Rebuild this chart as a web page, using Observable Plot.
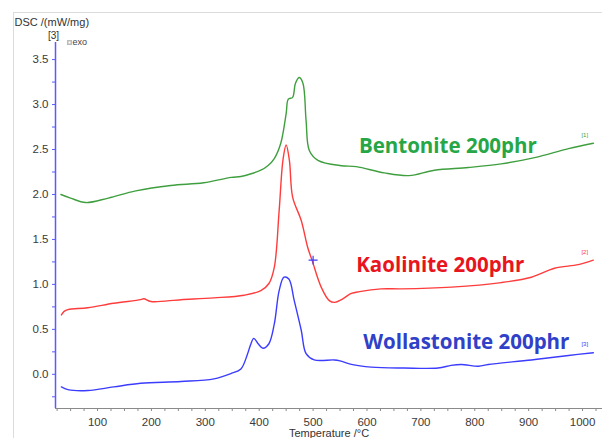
<!DOCTYPE html>
<html><head><meta charset="utf-8">
<script src="https://cdn.jsdelivr.net/npm/d3@7"></script>
<script src="https://cdn.jsdelivr.net/npm/@observablehq/plot@0.6"></script>
<style>
body{margin:0;background:#fff}
#wrap{position:relative;width:602px;height:438px}
#border{position:absolute;left:13px;top:12px;width:589px;height:426px;border-left:1px solid #dcdcdc;border-top:1px solid #dcdcdc;pointer-events:none}
</style>
</head><body><div id="wrap"><div id="chart"></div><div id="border"></div></div>
<script>
// ---- data ----
const bentoniteT = [32,50,78,120,171,236,297,348,366,385,403,416,428,440,450,454,462,467,474,481,487,493,509,552,580,632,678,725,788,849,911,974,1020];
const bentoniteV = [2.00,1.96,1.91,1.96,2.04,2.10,2.13,2.19,2.20,2.23,2.27,2.32,2.40,2.57,2.90,3.06,3.08,3.23,3.30,3.24,2.82,2.49,2.38,2.32,2.31,2.24,2.21,2.27,2.30,2.34,2.41,2.51,2.57];

const kaoliniteT = [33,38,45,82,130,180,186,199,255,316,372,403,418,428,437,444,450,456,462,478,490,498,515,530,540,555,571,586,626,664,757,849,905,948,992,1020];
const kaoliniteV = [0.66,0.70,0.72,0.74,0.79,0.83,0.84,0.81,0.83,0.85,0.88,0.93,1.01,1.19,1.82,2.38,2.55,2.38,1.97,1.71,1.41,1.27,0.97,0.82,0.80,0.84,0.90,0.92,0.95,0.95,0.97,1.02,1.08,1.18,1.22,1.27];

const wollastoniteT = [33,45,82,130,180,255,316,348,366,378,384,390,398,407,418,428,437,446,455,465,478,487,502,539,550,571,608,669,732,756,775,807,825,905,974,1020];
const wollastoniteV = [-0.14,-0.17,-0.18,-0.14,-0.10,-0.08,-0.05,0.01,0.06,0.22,0.33,0.40,0.34,0.29,0.34,0.56,0.93,1.08,1.06,0.82,0.49,0.23,0.16,0.16,0.15,0.11,0.08,0.07,0.07,0.10,0.11,0.09,0.11,0.16,0.21,0.24];

const seriesNames = ["Bentonite 200phr", "Kaolinite 200phr", "Wollastonite 200phr"];
const seriesTags = ["[1]", "[2]", "[3]"];
const labelT = [585, 580, 593];
const labelV = [2.53, 1.21, 0.36];
const tagT = [1004, 1004, 1004];
const tagV = [2.66, 1.36, 0.34];
const markerT = [500];
const markerV = [1.27];

const xMin = 22, xMax = 1037, yMin = -0.38, yMax = 3.69;
const xLabelTicks = [100,200,300,400,500,600,700,800,900,1000];
const xMinorTicks = d3.range(25, 1026, 25);
const yLabelTicks = [0,0.5,1,1.5,2,2.5,3,3.5];
const yMinorTicks = d3.range(-0.25, 3.51, 0.25);

// ---- styles ----
const lineColors = ["#3f9f3f", "#ff3c3c", "#3c3cff"];
const textColors = ["#26a646", "#e8141e", "#3040c8"];
const axisBlue = "#5a5aff";

const rows = [];
[[bentoniteT, bentoniteV], [kaoliniteT, kaoliniteV], [wollastoniteT, wollastoniteV]].forEach(([T, V], i) => {
  T.forEach((t, j) => rows.push({series: seriesNames[i], t, v: V[j]}));
});
const labels = seriesNames.map((s, i) => ({s, t: labelT[i], v: labelV[i], c: textColors[i]}));
const tags = seriesTags.map((s, i) => ({s, t: tagT[i], v: tagV[i], c: lineColors[i]}));
const markers = markerT.map((t, i) => ({t, v: markerV[i]}));

const chart = Plot.plot({
  width: 602, height: 438,
  marginLeft: 55, marginRight: 0, marginTop: 42, marginBottom: 30,
  style: {fontFamily: "'Liberation Sans', Arial, sans-serif", background: "transparent", overflow: "visible"},
  x: {domain: [xMin, xMax]},
  y: {domain: [yMin, yMax]},
  color: {domain: seriesNames, range: lineColors},
  marks: [
    Plot.axisX({ticks: xMinorTicks, tickFormat: () => "", tickSize: 3, stroke: "#8a8a8a", label: null}),
    Plot.axisX({ticks: xLabelTicks, tickSize: 0, tickPadding: 9, tickFormat: d => String(d), fill: "#3a3a3a", fontSize: 11.5, label: null}),
    Plot.axisY({ticks: yMinorTicks, tickFormat: () => "", tickSize: 3, stroke: axisBlue, label: null}),
    Plot.axisY({ticks: yLabelTicks, tickSize: 0, tickPadding: 7, tickFormat: d3.format(".1f"), fill: "#3a3a3a", fontSize: 11.5, label: null}),
    Plot.ruleY([yMin], {x1: xMin, x2: xMax, stroke: "#8a8a8a"}),
    Plot.ruleX([xMin], {y1: yMin, y2: yMax, stroke: axisBlue, strokeWidth: 1.5}),
    Plot.line(rows, {x: "t", y: "v", z: "series", stroke: "series", strokeWidth: 1.4, curve: "catmull-rom"}),
    Plot.dot(markers, {x: "t", y: "v", symbol: "plus", r: 3, stroke: "#3c3cff", strokeWidth: 1.2}),
    Plot.text(labels, {x: "t", y: "v", text: "s", fill: "c", textAnchor: "start", lineAnchor: "middle", fontSize: 20.5, fontWeight: "bold", fontFamily: "'Open Sans', sans-serif"}),
    Plot.text(tags, {x: "t", y: "v", text: "s", fill: "c", textAnchor: "middle", fontSize: 6}),
    Plot.text(["Temperature /°C"], {frameAnchor: "bottom", dy: 25, lineAnchor: "middle", fontSize: 11, fill: "#333"}),
    Plot.text(["DSC /(mW/mg)"], {frameAnchor: "top-left", dx: -41, dy: -20, textAnchor: "start", lineAnchor: "middle", fontSize: 11, fill: "#333"}),
    Plot.text(["[3]"], {frameAnchor: "top-left", dx: -2, dy: -7, textAnchor: "middle", lineAnchor: "middle", fontSize: 10, fill: "#333"}),
    Plot.dot([0], {frameAnchor: "top-left", dx: 14, dy: 0, symbol: "square", r: 2, stroke: "#bbb", fill: "#fff"}),
    Plot.text(["exo"], {frameAnchor: "top-left", dx: 17, dy: 0, textAnchor: "start", lineAnchor: "middle", fontSize: 9, fill: "#444"})
  ]
});
document.getElementById("chart").appendChild(chart);
</script>
</body></html>
